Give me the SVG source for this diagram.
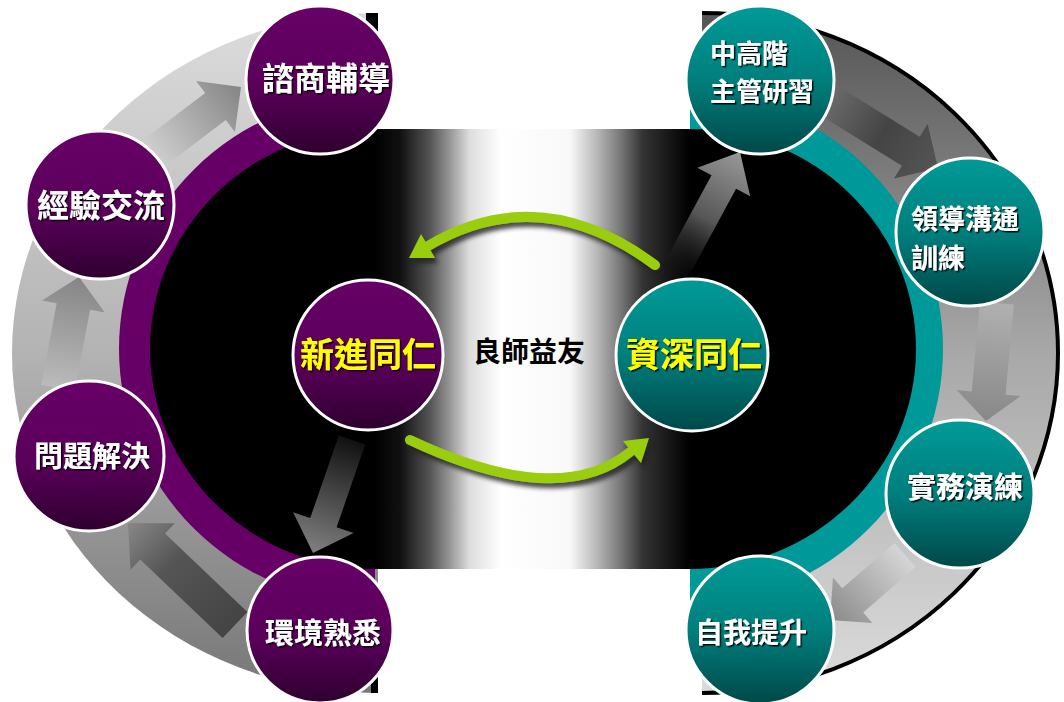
<svg xmlns="http://www.w3.org/2000/svg" width="1064" height="702" viewBox="0 0 1064 702">
<defs>
<style>
.node{stroke:#fff;stroke-width:3}
.lbl{font-family:"Noto Sans CJK TC","Noto Sans CJK SC",sans-serif;font-weight:bold;fill:#fff;filter:url(#tsh)}
.ylw{fill:#ffff00}
.grn{fill:none;stroke:#9acd0a;stroke-width:10;stroke-linecap:round}
</style>
<filter id="tsh" x="-10%" y="-20%" width="130%" height="150%"><feDropShadow dx="1.5" dy="1.5" stdDeviation="0.6" flood-color="#000" flood-opacity="0.9"/></filter>
<filter id="gsh" x="-10%" y="-20%" width="130%" height="160%"><feDropShadow dx="3" dy="5" stdDeviation="2" flood-color="#222" flood-opacity="0.8"/></filter>
<linearGradient id="gL" x1="0" y1="13" x2="0" y2="693" gradientUnits="userSpaceOnUse"><stop offset="0" stop-color="#dcdcdc"/><stop offset="0.5" stop-color="#b3b3b3"/><stop offset="1" stop-color="#777"/></linearGradient>
<linearGradient id="gR" x1="0" y1="13" x2="0" y2="693" gradientUnits="userSpaceOnUse"><stop offset="0" stop-color="#555"/><stop offset="0.5" stop-color="#a8a8a8"/><stop offset="1" stop-color="#dcdcdc"/></linearGradient>
<linearGradient id="band" x1="375" y1="0" x2="690" y2="0" gradientUnits="userSpaceOnUse"><stop offset="0" stop-color="#000"/><stop offset="0.08" stop-color="#111"/><stop offset="0.175" stop-color="#555"/><stop offset="0.24" stop-color="#999"/><stop offset="0.3" stop-color="#ddd"/><stop offset="0.4" stop-color="#fff"/><stop offset="0.62" stop-color="#f8f8f8"/><stop offset="0.7" stop-color="#bbb"/><stop offset="0.78" stop-color="#777"/><stop offset="0.85" stop-color="#333"/><stop offset="0.95" stop-color="#111"/><stop offset="1" stop-color="#000"/></linearGradient>
<linearGradient id="pur" x1="0" y1="0" x2="0" y2="1"><stop offset="0" stop-color="#680068"/><stop offset="0.55" stop-color="#5a005a"/><stop offset="1" stop-color="#2e002e"/></linearGradient>
<linearGradient id="tea" x1="0" y1="0" x2="0" y2="1"><stop offset="0" stop-color="#009a98"/><stop offset="0.5" stop-color="#007f7d"/><stop offset="1" stop-color="#004848"/></linearGradient>
<linearGradient id="aL1" x1="235" y1="625" x2="128" y2="523" gradientUnits="userSpaceOnUse"><stop offset="0" stop-color="#444"/><stop offset="0.6" stop-color="#555"/><stop offset="1" stop-color="#888"/></linearGradient>
<linearGradient id="aL2" x1="58" y1="388" x2="79" y2="277" gradientUnits="userSpaceOnUse"><stop offset="0" stop-color="#bbb"/><stop offset="1" stop-color="#858585"/></linearGradient>
<linearGradient id="aL3" x1="145" y1="160" x2="241" y2="87" gradientUnits="userSpaceOnUse"><stop offset="0" stop-color="#d5d5d5"/><stop offset="1" stop-color="#858585"/></linearGradient>
<linearGradient id="aR4" x1="828" y1="100" x2="938" y2="168" gradientUnits="userSpaceOnUse"><stop offset="0" stop-color="#6a6a6a"/><stop offset="0.5" stop-color="#444"/><stop offset="1" stop-color="#555"/></linearGradient>
<linearGradient id="aR5" x1="997" y1="303" x2="986" y2="421" gradientUnits="userSpaceOnUse"><stop offset="0" stop-color="#b0b0b0"/><stop offset="1" stop-color="#888"/></linearGradient>
<linearGradient id="aR6" x1="905" y1="555" x2="830" y2="620" gradientUnits="userSpaceOnUse"><stop offset="0" stop-color="#d5d5d5"/><stop offset="1" stop-color="#8a8a8a"/></linearGradient>
<linearGradient id="aCA" x1="668" y1="285" x2="740" y2="152" gradientUnits="userSpaceOnUse"><stop offset="0" stop-color="#000" stop-opacity="0"/><stop offset="0.5" stop-color="#555"/><stop offset="1" stop-color="#999"/></linearGradient>
<linearGradient id="aCB" x1="352" y1="440" x2="313" y2="553" gradientUnits="userSpaceOnUse"><stop offset="0" stop-color="#111"/><stop offset="1" stop-color="#808080"/></linearGradient>
</defs>

<g id="background">
<path d="M378 13 A366 340 0 0 0 378 693 Z" fill="url(#gL)"/>
<path d="M702 13 A356 340 0 0 1 702 693 Z" fill="url(#gR)"/>
<path d="M702 13 A356 340 0 0 1 702 693" fill="none" stroke="#000" stroke-width="4"/>
<rect x="366" y="13" width="12" height="20" fill="#000"/>
<rect x="371" y="672" width="7" height="21" fill="#000"/>
<path d="M375 95 A256 254 0 0 0 375 603 Z" fill="#660066"/>
<path d="M690 95 A253 254 0 0 1 690 603 Z" fill="#009999"/>
<path d="M376 129 A226 220 0 0 0 376 569 Z" fill="#000"/>
<path d="M689 129 A227 220 0 0 1 689 569 Z" fill="#000"/>
<rect x="375" y="129" width="315" height="440" fill="url(#band)"/>
</g>

<g id="connectors">
<polygon points="222.6,638 140.2,559.5 130.5,569.7 128,523 174.7,523.3 165,533.5 247.4,612" fill="url(#aL1)"/>
<polygon points="41.3,384.8 56.7,303.3 42,300.5 79,277 104.8,312.5 90.1,309.7 74.7,391.2" fill="url(#aL2)"/>
<polygon points="134.7,146.5 205.2,92.9 196.1,80.9 241,87 234.9,131.9 225.8,119.9 155.3,173.5" fill="url(#aL3)"/>
<polygon points="836.9,85.5 919.7,136.7 927.6,124 938,168 894,178.4 901.9,165.7 819.1,114.5" fill="url(#aR4)"/>
<polygon points="1013.9,304.6 1005.5,394.7 1020.5,396.1 986,421 956.7,390.1 971.7,391.5 980.1,301.4" fill="url(#aR5)"/>
<polygon points="915.5,567.1 863.2,612.4 872.4,623 830,620 833,577.6 842.2,588.2 894.5,542.9" fill="url(#aR6)"/>
<polygon points="655.7,278.3 711.5,175.3 697.4,167.7 740,152 750.2,196.3 736.1,188.7 680.3,291.7" fill="url(#aCA)"/>
<polygon points="365.2,444.6 336.6,527.3 353.7,533.1 313,553 293.1,512.3 310.2,518.1 338.8,435.4" fill="url(#aCB)"/>
<g filter="url(#gsh)">
<path class="grn" d="M655 265 Q540 179.5 428 246"/>
<polygon points="409,258 435,258 421,234" fill="#9acd0a"/>
<path class="grn" d="M410 440 Q559 510 630 452"/>
<polygon points="649,438 641,463 623,441" fill="#9acd0a"/>
</g>
</g>

<text class="lbl" x="529" y="362" font-size="28" text-anchor="middle" style="fill:#000;filter:none">良師益友</text>

<g id="n-consult"><circle class="node" cx="320" cy="80" r="74" fill="url(#pur)"/><text class="lbl" x="326" y="90" font-size="32" text-anchor="middle">諮商輔導</text></g>
<g id="n-exchange"><circle class="node" cx="100" cy="205" r="74" fill="url(#pur)"/><text class="lbl" x="101" y="217" font-size="32" text-anchor="middle">經驗交流</text></g>
<g id="n-problem"><circle class="node" cx="89" cy="456" r="75" fill="url(#pur)"/><text class="lbl" x="92" y="467" font-size="29" text-anchor="middle">問題解決</text></g>
<g id="n-env"><circle class="node" cx="320" cy="630" r="73" fill="url(#pur)"/><text class="lbl" x="323" y="644" font-size="29" text-anchor="middle">環境熟悉</text></g>
<g id="n-new"><circle class="node" cx="368" cy="355" r="75" fill="url(#pur)"/><text class="lbl ylw" x="368" y="367" font-size="34" text-anchor="middle">新進同仁</text></g>

<g id="n-senior"><circle class="node" cx="692" cy="355" r="76" fill="url(#tea)"/><text class="lbl ylw" x="694" y="367" font-size="34" text-anchor="middle">資深同仁</text></g>
<g id="n-mgmt"><circle class="node" cx="760" cy="80" r="74" fill="url(#tea)"/><text class="lbl" font-size="26"><tspan x="710" y="63">中高階</tspan><tspan x="710" y="101">主管研習</tspan></text></g>
<g id="n-lead"><circle class="node" cx="970" cy="232" r="74" fill="url(#tea)"/><text class="lbl" font-size="27"><tspan x="911" y="229">領導溝通</tspan><tspan x="911" y="268">訓練</tspan></text></g>
<g id="n-practice"><circle class="node" cx="960" cy="494" r="74" fill="url(#tea)"/><text class="lbl" x="965" y="498" font-size="29" text-anchor="middle">實務演練</text></g>
<g id="n-self"><circle class="node" cx="760" cy="630" r="74" fill="url(#tea)"/><text class="lbl" x="751" y="643" font-size="28" text-anchor="middle">自我提升</text></g>
</svg>
